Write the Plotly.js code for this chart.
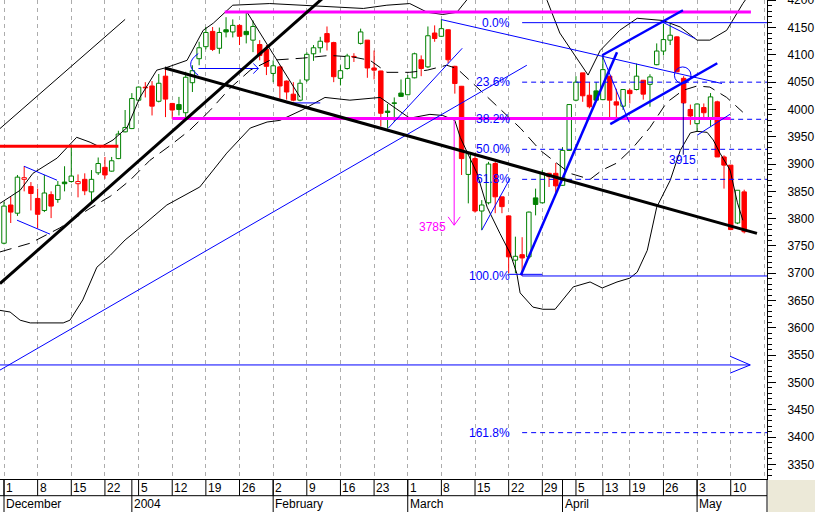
<!DOCTYPE html>
<html><head><meta charset="utf-8">
<script src="https://cdn.plot.ly/plotly-3.0.1.min.js"></script>
<style>html,body{margin:0;padding:0;background:#fff;}#chart{width:815px;height:512px;}</style>
</head><body><div id="chart"></div>
<script>
// ---- daily OHLC (trading-day index 0 = 1 Dec 2003) ----
const opens = [3755,3825,3810,3872,3859,3837,3815,3844,3835,3867, 3868,3864,3872,3849,3884,3894,3887,3910,3959,3965,
 4017,4040.5,4043,4015,4061,4011,4009,3994,4049,4093, 4115,4143,4112,4146,4142,4154,4143,4127,4119,4110,
 4066,4078,4052,4028,4017,4054,4102,4113,4139,4122.5, 4057,4075,4096,4121,4127,4076,4070.5,3997,4011,4030,
 4027,4058,4091,4078,4140,4134,4146,4079,4042.5,3881, 3910,3814,3829,3901,3840,3805,3724,3734,3730,3838,
 3829,3883,3883,3861,3925,4017,4067,4026,4034,4018, 4061,4014,4006,4035,4036.5,4053.5,4046,4082,4107,4127,
 4133,4057,4000,3974,4003.5,3984.5,4014,3913,3898,3792, 3849];
const highs = [3831,3840,3880,3896,3867,3855,3880,3850,3869,3896, 3933,3881,3883,3889,3912,3913,3913,3961,3999,4030,
 4042,4050,4052,4065,4077,4012,4023,4069,4081,4124, 4151,4151,4150,4169,4165,4156,4179,4163,4127,4118,
 4090,4080,4053,4050,4055,4105,4118,4133,4152,4124, 4081,4102,4103,4148,4127,4108,4071,4010,4022,4055,
 4063,4104,4099,4152,4154,4165,4147,4080,4043,3920, 3919,3834,3904,3904,3840,3806,3767,3766,3813,3855,
 3889,3884,3902,3931,4010,4061,4067,4050,4050,4099, 4061,4038,4037,4038,4084,4054,4064.5,4121,4157,4157,
 4134,4061,4009,4011,4011,4030,4016,3916,3898,3852, 3853];
const lows = [3753,3792,3805,3850,3815,3782,3812,3801,3829,3850, 3866,3839,3843,3831,3880,3873,3886,3909,3958,3964,
 4015,4022,3989,4013,3986,3983,3989,3986,4032,4081, 4110,4107,4102,4132,4132,4118,4121,4105,4090,4063,
 4050,4020,4018,4015,4015,4050,4089,4104,4108,4050, 4044,4073,4087,4119,4058,4055,3969,3965,3977,4023,
 4026,4057,4061,4076,4124,4133,4085,4029,3880,3828, 3811,3779,3826,3810,3810,3700,3700,3695,3726,3806,
 3828,3858,3846,3860,3924,4015,4014,4002,4015,4017, 3983,3986,3999,4011,4035,4018,4005,4081,4099,4118,
 4068,4010,3972,3959,3986,3969,3913,3855,3779,3790, 3773];
const closes = [3823,3812,3876,3875,3846,3808,3847,3823,3861,3864, 3878,3868,3851,3872,3901,3880,3906,3955,3967,4020,
 4041,4039.5,4006,4048,4019,3999,4000,4059,4071,4113, 4141,4110,4141,4142,4154,4134,4137,4152,4099,4079,
 4080,4043,4032,4017,4048,4101,4113,4125,4123.5,4060, 4071,4098,4096,4142,4076,4072,3993,3994.5,4012,4024,
 4057,4102,4075,4135,4130,4148,4091,4047.5,3910,3919, 3814,3825,3900,3840,3822,3730,3731,3728,3812,3826,
 3884,3877,3860,3925,4009,4050,4025,4005,4017,4073, 4017,4008,4036.5,4029,4061,4028,4059.6,4107,4128,4136,
 4069,4012,3988,4010,3994,4023,3913,3898,3780,3852, 3776];

// ---- Bollinger bands (x = trading-day index) ----
const bbUpperX = [-0.6,2.4,4.3,7.9,10.8,12.8,14.3,16.2,18.3,20.2,22.7,24.2,27.2,29.6,31.1,34.0,39.5,44.4,49.5,53.4,56.9,60.3,62.9,65.2,67.3,68.8,72,76,79.5,80.7,82.6,86.8,88.6,91.5,94.1,97.9,100.5,103.0,104.9,107.4,109.8,111];
const bbUpperY = [3828,3852,3883,3911,3949,3940,3931,3944,3967,4022,4072,4077,4090,4145,4158,4191,4194,4191,4187,4185,4191,4194,4178,4174,4178,4200,4250,4265,4230,4200,4140,4063,4108,4145,4167,4163,4151,4127,4127,4145,4194,4215];
const bbMidX = [-0.6,3.9,8.3,12.8,15.8,18.7,21.7,24.7,27.6,30.6,33.6,36.6,39.5,44.4,48.4,51.9,54.4,56.9,60.3,62.9,65.8,67.3,69.5,72.8,76.8,79.7,84.1,87.1,88.9,91.1,93.4,96.0,98.5,100.9,103.0,104.9,107.4,109.8];
const bbMidY = [3739,3755,3783,3819,3841,3870,3907,3934,3962,3998,4039,4072,4090,4094,4099,4096,4090,4068,4068,4072,4081,4075,4050,4011,3965,3925,3883,3872,3889,3902,3929,3967,4013,4035,4043,4041,4022,3995];
const bbLowX = [-0.6,0.9,2.4,3.9,8.8,9.8,11.7,13.8,15.8,18.0,20.2,24.2,29.1,33.1,36.6,39.1,41.0,44.3,47.7,51.4,55.9,60.3,63.3,65.2,67.0,67.8,70.3,71.8,73.7,75.2,76.2,76.7,78.6,80.1,81.9,84.6,87.1,88.9,91.1,93.0,94.1,95.6,97.0,99.0,100.5,102.0,103.0,104.5,105.4,106.4,107.9,109.0,109.8];
const bbLowY = [3632,3629,3614,3609,3609,3614,3651,3711,3733,3761,3783,3825,3858,3920,3966,3977,3980,3999,4022,4017,4022,3984,3991,3989,3980,3949,3883,3821,3773,3737,3700,3664,3638,3634,3634,3675,3684,3673,3684,3691,3702,3742,3821,3870,3925,3957,3960,3958,3944,3920,3889,3829,3797];

// ---- drawn trend lines: [x0, y0, x1, y1] in (day index, index value) ----
const thinBlackLines = [[-0.6,3965,18.0,4165],[36.1,4178.6,44.0,4022.4]];
const thickBlackLines = [[-0.6,3681,48.4,4215],[23.9,4076,111.9,3773]];
const magentaLines = [[32.8,4178.6,111.0,4178.6],[25.0,3983.4,108.0,3983.4]];
const redLines = [[-0.6,3932.7,17.0,3932.7]];
const thinBlueLines = [[2.97,3896,7.88,3870.4],[1.93,3797.2,6.84,3771.6],[-0.6,3522.6,77.7,4081],
 [57.1,3965.6,68.1,4112.1],[-0.6,3532,110.9,3532],[65.0,4164.6,106.7,4047.5],[88.9,4099.3,92.9,3976.6],
 [97.9,4159.7,102.7,4130],[103.0,3952.7,107.9,3991.2],[71.0,3778.9,75.2,3873.6],[28.9,4075,37.8,4075],
 [42.0,4012,47.0,4012],[75,3698,80,3698]];
const thickBlueLines = [[76.8,3696.5,91.1,4104.8],[88.9,4099.3,100.9,4181.7],[90.1,3973,106.0,4084.6]];
const navyLines = [[100.95,4012,100.95,3917]];
const blueArrowHeads = [[[107.9,3548],[110.9,3532],[107.9,3517]],[[37.05,4084.1],[37.8,4075],[37.05,4065.8]]];
const magentaArrowHeads = [[[66.0,3803.3],[66.9,3788],[67.8,3803.3]]];
const magentaArrow = [[66.9,3983.4,66.9,3788]];

// ---- Fibonacci retracement ----
const fibLevels = [4159,4050,3982,3927,3872,3695,3408];
const fibLabels = ['0.0%','23.6%','38.2%','50.0%','61.8%','100.0%','161.8%'];
const fibSolid = [true,false,false,false,false,true,false];
const fibStart = 77;

// ---- text marks ----
const priceNotes = [{x:66.05,y:3785,text:'3785',color:'#ff00ff'},{x:100.9,y:3907,text:'3915',color:'#0000ff'}];

// ---- axis labels ----
const gridIdx = [0,5,10,15,20,25,30,35,40,45,50,55,60,65,70,75,80,85,89,93,98,103,108,113];
const dayIdx = [0,5,10,15,20,25,30,35,40,45,50,55,60,65,70,75,80,85,89,93,98,103,108];
const dayText = ['1','8','15','22','5','12','19','26','2','9','16','23','1','8','15','22','29','5','13','19','26','3','10'];
const monthIdx = [0,19,40,60,83,103];
const monthText = ['December','2004','February','March','April','May'];

const GREEN = '#008000', RED = '#ff0000', BLUE = '#0000ff', MAG = '#ff00ff';
const FONT = 'Liberation Sans, Arial, sans-serif';

function segTrace(segs, color, width, dash) {
  const x = [], y = [];
  segs.forEach(s => { x.push(s[0], s[2], null); y.push(s[1], s[3], null); });
  return {type:'scatter', mode:'lines', x, y, line:{color, width, dash: dash || 'solid'}, hoverinfo:'skip'};
}
function polyTrace(polys, color, width) {
  const x = [], y = [];
  polys.forEach(p => { p.forEach(pt => { x.push(pt[0]); y.push(pt[1]); }); x.push(null); y.push(null); });
  return {type:'scatter', mode:'lines', x, y, line:{color, width}, hoverinfo:'skip'};
}

// candles
const idx = closes.map((_, i) => i);
const base = [], len = [], fill = [], edge = [];
const wG = {x:[], y:[]}, wR = {x:[], y:[]};
closes.forEach((c, i) => {
  const o = opens[i];
  const up = i === 0 ? true : c >= closes[i-1];
  const col = up ? GREEN : RED;
  const lo = Math.min(o, c), hi = Math.max(o, c);
  base.push(lo); len.push(Math.max(hi - lo, 1.2));
  fill.push(c > o ? '#ffffff' : col); edge.push(col);
  const w = up ? wG : wR;
  w.x.push(i, i, null, i, i, null);
  w.y.push(highs[i], hi, null, lo, lows[i], null);
});

const traces = [
  {type:'bar', x: idx, y: len, base: base, width: 0.66,
   marker:{color: fill, line:{color: edge, width: 1}}, hoverinfo:'skip'},
  {type:'scatter', mode:'lines', x: wG.x, y: wG.y, line:{color: GREEN, width: 1}, hoverinfo:'skip'},
  {type:'scatter', mode:'lines', x: wR.x, y: wR.y, line:{color: RED, width: 1}, hoverinfo:'skip'},
  {type:'scatter', mode:'lines', x: bbUpperX, y: bbUpperY, line:{color:'#000', width:1}, hoverinfo:'skip'},
  {type:'scatter', mode:'lines', x: bbLowX, y: bbLowY, line:{color:'#000', width:1}, hoverinfo:'skip'},
  {type:'scatter', mode:'lines', x: bbMidX, y: bbMidY, line:{color:'#000', width:1, dash:'12px,7px'}, hoverinfo:'skip'},
];
// fib lines
fibLevels.forEach((lv, k) => {
  traces.push({type:'scatter', mode:'lines', x:[fibStart, 113.4], y:[lv, lv],
    line:{color: BLUE, width: 1, dash: fibSolid[k] ? 'solid' : '5px,4px'}, hoverinfo:'skip'});
});
traces.push(segTrace(thinBlackLines, '#000', 1));
traces.push(segTrace(redLines, RED, 3));
traces.push(segTrace(magentaLines, MAG, 3));
traces.push(segTrace(magentaArrow, MAG, 1));
traces.push(polyTrace(magentaArrowHeads, MAG, 1));
traces.push(segTrace(thinBlueLines, BLUE, 1));
traces.push(polyTrace(blueArrowHeads, BLUE, 1));
traces.push(segTrace(navyLines, '#00008b', 1));
traces.push(segTrace(thickBlueLines, BLUE, 2.5));
traces.push(segTrace(thickBlackLines, '#000', 3));

const H = 479, rowY = -16.7 / H, botY = -33 / H;
const shapes = [];
dayIdx.forEach(d => shapes.push({type:'line', xref:'x', yref:'paper', x0:d, x1:d, y0:0, y1:rowY, line:{color:'#000', width:1}}));
monthIdx.forEach(m => shapes.push({type:'line', xref:'x', yref:'paper', x0:m, x1:m, y0:0, y1:botY, line:{color:'#000', width:1}}));
shapes.push({type:'line', xref:'paper', yref:'paper', x0:0, x1:1, y0:rowY, y1:rowY, line:{color:'#000', width:1}});
shapes.push({type:'line', xref:'paper', yref:'paper', x0:1, x1:1, y0:0, y1:botY, line:{color:'#000', width:1}});
shapes.push({type:'rect', xref:'paper', yref:'paper', x0:1.0015, x1:1.07, y0:-0.002, y1:-0.08, fillcolor:'#ece9d8', line:{width:0}});
shapes.push({type:'circle', xref:'x', yref:'y', x0:99.63, x1:102.09, y0:4047.5, y1:4077.9, line:{color:BLUE, width:1}});
shapes.push({type:'path', xref:'x', yref:'y', path:'M 28.87,4102.4 Q 26.6,4082.8 28.87,4062.7', line:{color:BLUE, width:1}});

const annotations = [];
dayIdx.forEach((d, k) => annotations.push({xref:'x', yref:'paper', x:d, y:-8.7/H, xanchor:'left', yanchor:'middle',
  text: dayText[k], showarrow:false, font:{family:FONT, size:12, color:'#000'}}));
monthIdx.forEach((m, k) => annotations.push({xref:'x', yref:'paper', x:m, y:-24.5/H, xanchor:'left', yanchor:'middle',
  text: monthText[k], showarrow:false, font:{family:FONT, size:12, color:'#000'}}));
fibLevels.forEach((lv, k) => annotations.push({xref:'x', yref:'y', x:fibStart, xshift:-10, y:lv, xanchor:'right', yanchor:'middle',
  text: fibLabels[k], showarrow:false, font:{family:FONT, size:12, color:BLUE}}));
priceNotes.forEach(n => annotations.push({xref:'x', yref:'y', x:n.x, y:n.y, xanchor: n.text === '3785' ? 'right' : 'center', yanchor:'middle',
  text:n.text, showarrow:false, font:{family:FONT, size:12, color:n.color}}));

const layout = {
  width: 815, height: 512,
  margin: {l:0, r:48, t:0, b:33, pad:0},
  paper_bgcolor:'#fff', plot_bgcolor:'#fff',
  showlegend:false, barmode:'overlay',
  xaxis: {range:[-0.594, 113.39], tickmode:'array', tickvals: gridIdx, showticklabels:false, ticks:'',
    showgrid:true, gridcolor:'#acacac', griddash:'4px,4px', gridwidth:1, showline:true, linecolor:'#000', linewidth:1,
    zeroline:false, fixedrange:true},
  yaxis: {side:'right', range:[3323.1, 4200.5], tickmode:'linear', tick0:0, dtick:50, ticks:'outside', ticklen:8,
    tickcolor:'#000', tickwidth:1, showline:true, linecolor:'#000', linewidth:1, showgrid:false, zeroline:false,
    tickfont:{family:FONT, size:12, color:'#000'}, ticklabelstandoff:9, ticklabeloverflow:'allow',
    minor:{tick0:0, dtick:10, ticks:'outside', ticklen:4, tickcolor:'#000', showgrid:false}, fixedrange:true},
  shapes, annotations
};
Plotly.newPlot('chart', traces, layout, {staticPlot:true, displayModeBar:false});
</script></body></html>
